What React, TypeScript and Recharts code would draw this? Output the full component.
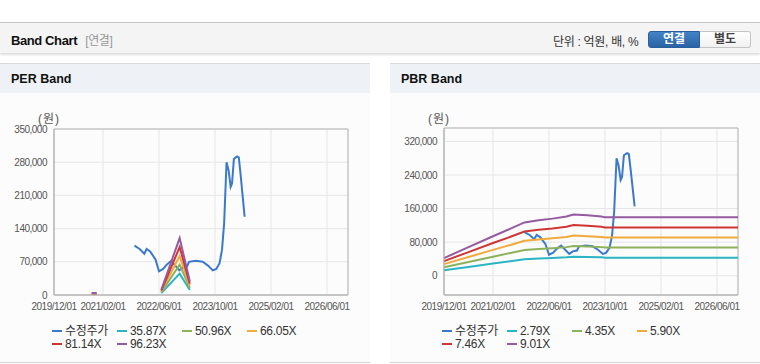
import { LineChart, Line, XAxis, YAxis, CartesianGrid, ReferenceArea } from "recharts";

// x axis: dates as month offsets from 2019/12/01
const xTickLabels = ["2019/12/01", "2021/02/01", "2022/06/01", "2023/10/01", "2025/02/01", "2026/06/01"];
const xEnd = "2026/12/01";

// 수정주가 (adjusted price)
const priceDates = [
  "2021/11/01", "2021/12/15", "2022/01/25", "2022/02/15", "2022/03/15", "2022/05/01",
  "2022/06/01", "2022/07/07", "2022/08/07", "2022/09/15", "2022/10/20", "2022/11/25",
  "2022/12/25", "2023/02/01", "2023/02/18", "2023/04/15", "2023/06/15", "2023/08/01",
  "2023/09/12", "2023/10/12", "2023/11/10", "2023/12/01", "2023/12/19", "2024/01/10",
  "2024/01/28", "2024/02/15", "2024/02/27", "2024/03/13", "2024/04/10", "2024/04/25",
  "2024/05/10", "2024/06/15",
];
const price = [
  104000, 97000, 87000, 97000, 92000, 75000,
  50000, 55000, 64000, 72000, 62000, 52000,
  58000, 60000, 70000, 72000, 70000, 62000,
  52000, 55000, 67000, 95000, 150000, 280000,
  262000, 228000, 235000, 287000, 292000, 290000,
  255000, 165000,
];

// PER band (null = gap)
const perBandDates = ["2020/10/25", "2020/11/12", "2020/12/05", "2021/06/01", "2022/06/21", "2022/11/28", "2023/02/25"];
const per3587 = [1500, 1600, 1500, null, 4000, 45000, 10500];
const per5096 = [2100, 2300, 2100, null, 5700, 64000, 15000];
const per6605 = [2800, 3000, 2800, null, 7400, 82000, 19500];
const per8114 = [3400, 3700, 3400, null, 9200, 101000, 24000];
const per9623 = [4100, 4400, 4100, null, 11000, 120000, 29000];
const perLabels = ["35.87X", "50.96X", "66.05X", "81.14X", "96.23X"];
const perTicks = [0, 70000, 140000, 210000, 280000, 350000];

// PBR band
const pbrBandDates = [
  "2019/12/01", "2020/07/01", "2021/02/01", "2021/07/01", "2021/11/01", "2022/03/01",
  "2022/07/01", "2022/11/01", "2023/01/01", "2023/05/01", "2023/09/01", "2023/10/01", "2026/12/01",
];
const pbr279 = [13000, 21000, 29000, 34700, 39300, 40900, 42100, 43700, 45200, 44600, 43700, 43000, 43000];
const pbr435 = [20300, 32800, 45400, 54100, 61300, 63700, 65600, 68100, 70500, 69500, 68100, 67100, 67100];
const pbr590 = [27500, 44500, 61500, 73300, 83200, 86400, 89000, 92300, 95600, 94300, 92300, 91000, 91000];
const pbr746 = [34800, 56300, 77800, 92700, 105200, 109300, 112600, 116700, 120900, 119200, 116700, 115100, 115100];
const pbr901 = [42000, 68000, 94000, 112000, 127000, 132000, 136000, 141000, 146000, 144000, 141000, 139000, 139000];
const pbrLabels = ["2.79X", "4.35X", "5.90X", "7.46X", "9.01X"];
const pbrTicks = [0, 80000, 160000, 240000, 320000];

const priceColor = "#3a79cc";
const bandColors = ["#2ab4c4", "#8cb25b", "#f2a93c", "#cf3534", "#955aa1"];
const font = "'Liberation Sans', 'Noto Sans CJK KR', sans-serif";

function toM(s: string) {
  const [y, m, d] = s.split("/").map(Number);
  return (y - 2019) * 12 + (m - 12) + (d - 1) / 30;
}

const xTicks = xTickLabels.map(toM);
const xMax = toM(xEnd);
const priceData = priceDates.map((d, i) => ({ m: toM(d), v: price[i] }));

function bandRows(dates: string[], bands: (number | null)[][]) {
  return dates.map((d, i) => {
    const row: any = { m: toM(d) };
    bands.forEach((b, j) => (row["b" + j] = b[i]));
    return row;
  });
}

const fmtX = (v: number) => xTickLabels[xTicks.findIndex((t) => Math.abs(t - v) < 0.01)] ?? "";
const fmtY = (v: number) => v.toLocaleString("en-US");

interface PanelProps {
  left: number;
  title: string;
  rows: any[];
  labels: string[];
  yDomain: [number, number];
  yTicks: number[];
  marginTop: number;
}

function BandPanel({ left, title, rows, labels, yDomain, yTicks, marginTop }: PanelProps) {
  const legend = [{ name: "수정주가", color: priceColor }, ...labels.map((l, i) => ({ name: l, color: bandColors[i] }))];
  return (
    <div style={{ position: "absolute", left, top: 63, width: 370, height: 300, background: "#fcfcfc", borderTop: "1px solid #d9d9d9", borderBottom: "1px solid #d4d4d4", boxSizing: "border-box" }}>
      <div style={{ height: 29, background: "#eef2f7", fontWeight: "bold", fontSize: 12.5, color: "#111", lineHeight: "31px", paddingLeft: 11 }}>{title}</div>
      <div style={{ position: "absolute", left: 38, top: 45, fontSize: 12, color: "#555", fontFamily: font, letterSpacing: 1 }}>(원)</div>
      <div style={{ position: "absolute", left: 0, top: 36 }}>
        <LineChart width={362} height={216} data={rows} margin={{ top: marginTop, right: 14, bottom: 0, left: 0 }}>
          <CartesianGrid stroke="#e6e6e6" />
          <XAxis
            dataKey="m"
            type="number"
            domain={[0, xMax]}
            ticks={xTicks}
            interval={0}
            tickFormatter={fmtX}
            height={21}
            tickLine={false}
            axisLine={{ stroke: "#b5b5b5" }}
            tick={{ fill: "#555", fontSize: 10, fontFamily: font, letterSpacing: -0.5 }}
          />
          <YAxis
            type="number"
            domain={yDomain}
            ticks={yTicks}
            interval={0}
            allowDataOverflow
            tickFormatter={fmtY}
            width={54}
            tickLine={false}
            tickMargin={1}
            axisLine={{ stroke: "#b5b5b5" }}
            tick={{ fill: "#555", fontSize: 10, fontFamily: font, letterSpacing: -0.5 }}
          />
          <ReferenceArea x1={0} x2={xMax} y1={yDomain[0]} y2={yDomain[1]} fill="none" stroke="#b5b5b5" />
          <Line data={priceData} dataKey="v" stroke={priceColor} strokeWidth={2} dot={false} isAnimationActive={false} />
          {labels.map((l, i) => (
            <Line key={l} dataKey={"b" + i} stroke={bandColors[i]} strokeWidth={2} dot={false} isAnimationActive={false} />
          ))}
        </LineChart>
      </div>
      <div style={{ position: "absolute", left: 52, top: 261, width: 300, fontFamily: font, fontSize: 12, color: "#333" }}>
        {legend.map((it, i) => (
          <div key={it.name} style={{ position: "absolute", left: (i % 4) * 65, top: Math.floor(i / 4) * 13, height: 13, lineHeight: "13px", whiteSpace: "nowrap", letterSpacing: -0.3 }}>
            <span style={{ display: "inline-block", width: 10, height: 2, background: it.color, verticalAlign: "middle", marginRight: 3, marginTop: -2 }} />
            {it.name}
          </div>
        ))}
      </div>
    </div>
  );
}

export default function App() {
  const perRows = bandRows(perBandDates, [per3587, per5096, per6605, per8114, per9623]);
  const pbrRows = bandRows(pbrBandDates, [pbr279, pbr435, pbr590, pbr746, pbr901]);
  return (
    <div style={{ position: "relative", width: 760, height: 364, background: "#fff", overflow: "hidden", fontFamily: font }}>
      <style>{"body{margin:0}"}</style>
      <div style={{ position: "absolute", left: 0, top: 22, width: 760, height: 30, background: "#f4f4f4", borderTop: "1px solid #c6c6c6", boxShadow: "0 2px 2px rgba(0,0,0,0.13)" }} />
      <div style={{ position: "absolute", left: 11, top: 31, fontSize: 13, fontWeight: "bold", color: "#111", letterSpacing: -0.4 }}>
        Band Chart <span style={{ fontWeight: "normal", color: "#999", fontSize: 12, marginLeft: 5 }}>[연결]</span>
      </div>
      <div style={{ position: "absolute", left: 553, top: 32, fontSize: 12, color: "#333", letterSpacing: -0.3 }}>단위 : 억원, 배, %</div>
      <div style={{ position: "absolute", left: 648, top: 31, width: 52, height: 17, boxSizing: "border-box", background: "linear-gradient(#4283c6, #2b63a4)", border: "1px solid #2a5e9c", borderRadius: "3px 0 0 3px", color: "#fff", fontSize: 12, fontWeight: "bold", textAlign: "center", lineHeight: "15px" }}>연결</div>
      <div style={{ position: "absolute", left: 700, top: 31, width: 51, height: 17, boxSizing: "border-box", background: "linear-gradient(#ffffff, #f1f1f1)", border: "1px solid #c4c4c4", borderLeft: "none", borderRadius: "0 3px 3px 0", color: "#444", fontSize: 12, fontWeight: "bold", textAlign: "center", lineHeight: "15px" }}>별도</div>
      <BandPanel left={0} title="PER Band" rows={perRows} labels={perLabels} yDomain={[0, 350000]} yTicks={perTicks} marginTop={29} />
      <BandPanel left={390} title="PBR Band" rows={pbrRows} labels={pbrLabels} yDomain={[-46000, 352000]} yTicks={pbrTicks} marginTop={28} />
    </div>
  );
}
